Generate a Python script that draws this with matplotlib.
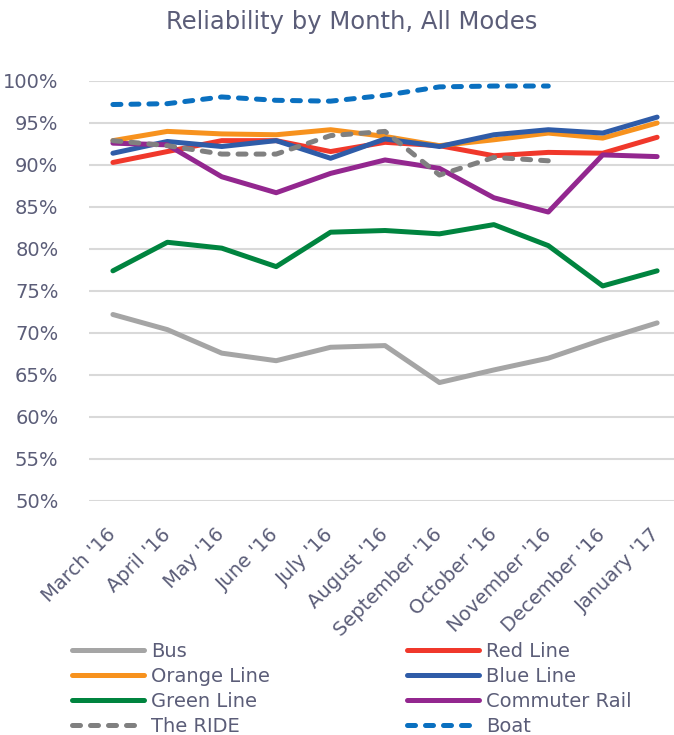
import matplotlib
matplotlib.use("Agg")
import matplotlib.pyplot as plt
from matplotlib.lines import Line2D
from matplotlib.ticker import FuncFormatter
import numpy as np

months = ["March '16", "April '16", "May '16", "June '16", "July '16", "August '16",
          "September '16", "October '16", "November '16", "December '16", "January '17"]

bus = [72.2, 70.4, 67.6, 66.7, 68.3, 68.5, 64.1, 65.6, 67.0, 69.2, 71.2]
red_line = [90.3, 91.6, 92.9, 92.9, 91.6, 92.7, 92.3, 91.1, 91.5, 91.4, 93.3]
orange_line = [92.9, 94.0, 93.7, 93.6, 94.2, 93.4, 92.3, 93.0, 93.8, 93.2, 95.0]
blue_line = [91.4, 92.8, 92.2, 92.9, 90.8, 93.1, 92.2, 93.6, 94.2, 93.8, 95.7]
green_line = [77.4, 80.8, 80.1, 77.9, 82.0, 82.2, 81.8, 82.9, 80.4, 75.6, 77.4]
commuter_rail = [92.6, 92.4, 88.6, 86.7, 89.0, 90.6, 89.6, 86.1, 84.4, 91.2, 91.0]
the_ride = [92.9, 92.3, 91.3, 91.3, 93.5, 94.0, 88.8, 90.9, 90.5]
boat = [97.2, 97.3, 98.1, 97.7, 97.6, 98.3, 99.3, 99.4, 99.4]

yticks = [50, 55, 60, 65, 70, 75, 80, 85, 90, 95, 100]

TXT = "#5b5d78"
fig = plt.figure(figsize=(6.74, 7.35), dpi=100)
ax = fig.add_axes([0.132, 0.3184, 0.868, 0.5714])

x = np.arange(len(months))
lw = 3.6
dash = (0, (1.6, 2.0))
series = [
    ("Bus", bus, "#a5a5a5", "-"),
    ("Red Line", red_line, "#f0382b", "-"),
    ("Orange Line", orange_line, "#f7921e", "-"),
    ("Blue Line", blue_line, "#2f5ca8", "-"),
    ("Green Line", green_line, "#00843f", "-"),
    ("Commuter Rail", commuter_rail, "#93278f", "-"),
    ("The RIDE", the_ride, "#808080", dash),
    ("Boat", boat, "#0a70c0", dash),
]
handles = {}
for name, vals, col, ls in series:
    ax.plot(x[:len(vals)], vals, color=col, lw=lw, ls=ls,
            solid_capstyle="round", dash_capstyle="round",
            solid_joinstyle="round", zorder=3)
    handles[name] = (col, ls)

ax.set_ylim(50, 100)
ax.set_yticks(yticks)
ax.yaxis.set_major_formatter(FuncFormatter(lambda v, p: f"{v:.0f}%"))
ax.set_xlim(-0.44, 10.31)
ax.set_xticks(x)
ax.set_xticklabels(months, rotation=45, ha="right", va="center",
                   rotation_mode="anchor")
ax.grid(axis="y", color="#d9d9d9", lw=1.5, zorder=0)
ax.set_axisbelow(True)
for s in ax.spines.values():
    s.set_visible(False)
ax.tick_params(axis="both", length=0, labelsize=14, labelcolor=TXT)
ax.tick_params(axis="y", pad=22)
ax.tick_params(axis="x", pad=22)

fig.text(0.522, 0.970, "Reliability by Month, All Modes", ha="center", va="center",
         fontsize=17.5, color=TXT)

def mk(name):
    col, ls = handles[name]
    return Line2D([0], [0], color=col, lw=lw, ls=ls,
                  solid_capstyle="round", dash_capstyle="round")

col1 = ["Bus", "Orange Line", "Green Line", "The RIDE"]
col2 = ["Red Line", "Blue Line", "Commuter Rail", "Boat"]
common = dict(frameon=False, fontsize=14, handlelength=3.7, handletextpad=0.35,
              labelspacing=0.31, borderpad=0, borderaxespad=0, loc="upper left",
              labelcolor=TXT, bbox_transform=fig.transFigure)
leg1 = fig.legend([mk(n) for n in col1], col1,
                  bbox_to_anchor=(72 / 674, 1 - 642 / 735), **common)
leg2 = fig.legend([mk(n) for n in col2], col2,
                  bbox_to_anchor=(407 / 674, 1 - 642 / 735), **common)

fig.savefig("out.png", dpi=100)
